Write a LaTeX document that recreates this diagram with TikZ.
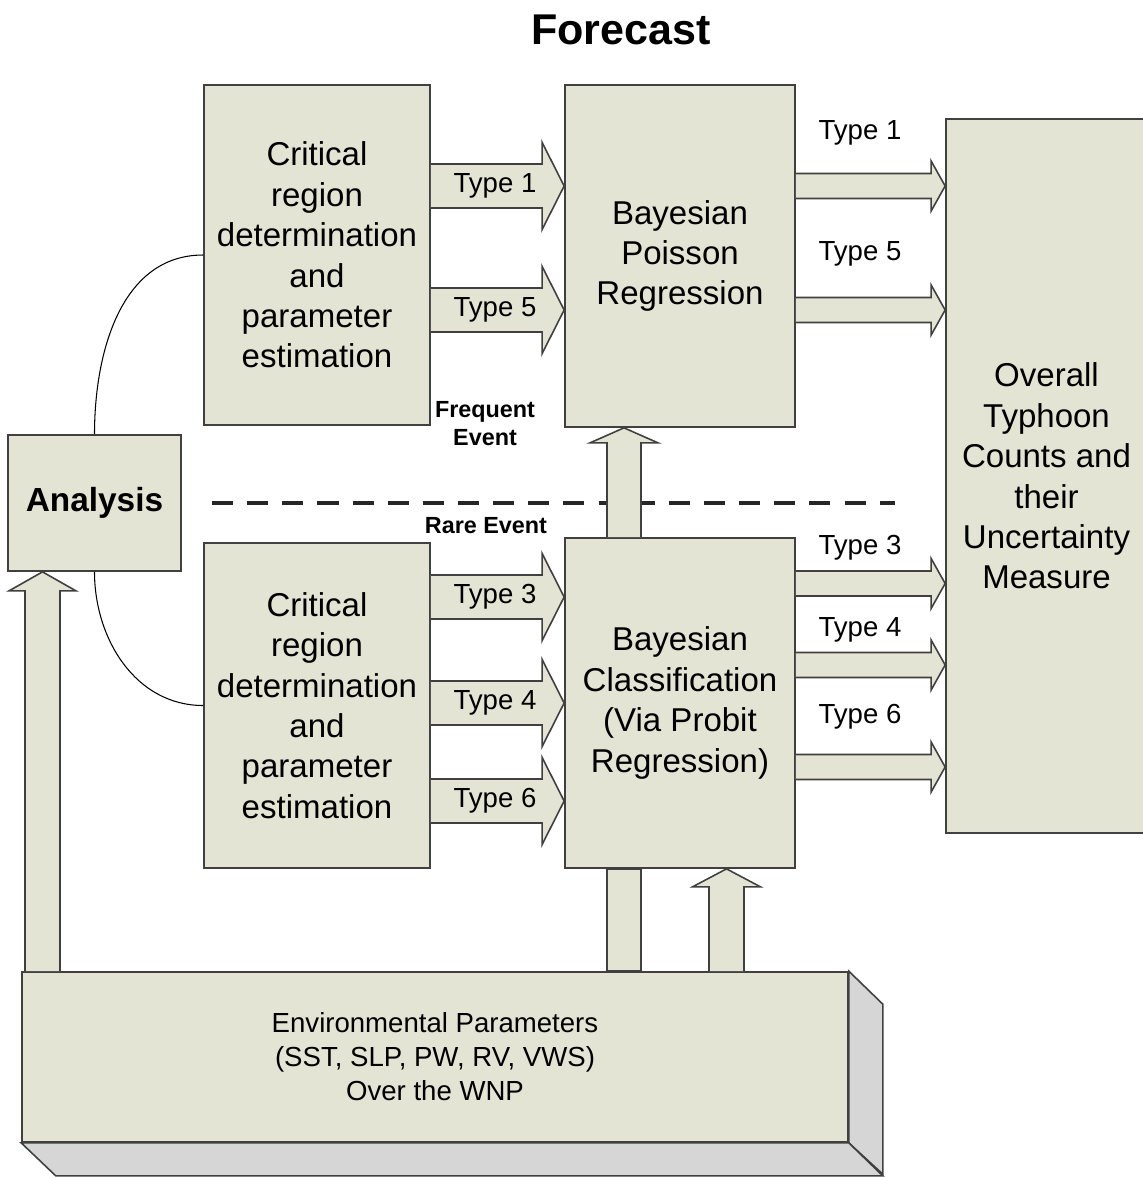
\documentclass[tikz,border=0pt]{standalone}
\usepackage{fontspec}
\setmainfont{Liberation Sans}
\usetikzlibrary{calc}
\definecolor{boxfill}{RGB}{228,228,212}
\definecolor{sidefill}{RGB}{214,214,214}
\newcommand{\boxtxt}  {\fontsize{18.8}{23}\selectfont}
\newcommand{\typetxt} {\fontsize{15.7}{19.3}\selectfont}
\newcommand{\evtxt}   {\fontsize{13.3}{16}\selectfont\bfseries}
% block arrows: #1 tail, #2 tip, #3 half shaft, #4 half head, #5 head length
\newcommand{\rblock}[5]{%
  \filldraw[blk] ($(#1)+(0,-#3)$) -- ($(#2)+(-#5,-#3)$) -- ($(#2)+(-#5,-#4)$)
    -- (#2) -- ($(#2)+(-#5,#4)$) -- ($(#2)+(-#5,#3)$) -- ($(#1)+(0,#3)$);}
\newcommand{\ublock}[5]{%
  \filldraw[blk] ($(#1)+(-#3,0)$) -- ($(#2)+(-#3,#5)$) -- ($(#2)+(-#4,#5)$)
    -- (#2) -- ($(#2)+(#4,#5)$) -- ($(#2)+(#3,#5)$) -- ($(#1)+(#3,0)$);}

\begin{document}
\begin{tikzpicture}[x=0.02cm,y=-0.02cm,
    box/.style={draw=black!75,fill=boxfill,line width=1pt,align=center,inner sep=0pt,font=\boxtxt},
    blk/.style={draw=black!75,fill=boxfill,line width=0.9pt,line join=miter},
    lbl/.style={font=\typetxt,inner sep=0pt}]
    \useasboundingbox (0,0) rectangle (1143,1177);

    \node (title) at (621,30) {\fontsize{24.5}{28}\selectfont\bfseries Forecast};

    % boxes
    \node[box,minimum width=4.52cm,minimum height=6.8cm] (crita) at (317,255)
      {Critical\\region\\determination\\and\\parameter\\estimation};
    \node[box,minimum width=4.52cm,minimum height=6.5cm] (critb) at (317,705.5)
      {Critical\\region\\determination\\and\\parameter\\estimation};
    \node[box,minimum width=4.6cm,minimum height=6.84cm] (poisson) at (680,256)
      {Bayesian\\Poisson\\Regression};
    \node[box,minimum width=4.6cm,minimum height=6.6cm] (classif) at (680,703)
      {Bayesian\\Classification\\(Via Probit\\Regression)};
    \node[box,minimum width=4.02cm,minimum height=14.28cm] (overall) at (1046.5,476)
      {Overall\\Typhoon\\Counts and\\their\\Uncertainty\\Measure};
    \node[box,minimum width=3.46cm,minimum height=2.72cm,font=\fontsize{19}{23}\selectfont\bfseries]
      (analysis) at (94.5,503) {Analysis};

    % environment block with its depth
    \node[box,minimum width=16.52cm,minimum height=3.4cm,font=\typetxt] (env) at (435,1057)
      {Environmental Parameters\\(SST, SLP, PW, RV, VWS)\\Over the WNP};
    \filldraw[blk,fill=sidefill] (env.north east) -- ++(34,33) -- ++(0,170) -- (env.south east) -- cycle;
    \filldraw[blk,fill=sidefill] (env.south west) -- (env.south east) -- ++(34,33) -- ++(-827,0) -- cycle;

    % links to the analysis box
    \draw[line width=0.6pt] (analysis.north) to[out=90,in=180] (crita.west);
    \draw[line width=0.6pt] (analysis.south) to[out=-90,in=180] (critb.west);

    % frequent / rare split
    \coordinate (splitl) at (212,503);
    \coordinate (splitr) at (895,503);
    \draw[line width=1.8pt,black!85,dash pattern=on 12pt off 8pt] (splitl) -- (splitr);
    \node[font=\evtxt,align=center,inner sep=0pt] (freq) at (485,424) {Frequent\\Event};
    \node[font=\evtxt,inner sep=0pt] (rare) at (486,526) {Rare Event};

    % types into the regressions
    \foreach \y/\t in {186/1,310/5} {
      \coordinate (la\t) at (crita.east |- 0,\y);
      \coordinate (lb\t) at (poisson.west |- 0,\y);
      \rblock{la\t}{lb\t}{22}{43.5}{22}
      \node[lbl] (lt\t) at (495,\y) {Type \t};
    }
    \foreach \y/\t in {597/3,703/4,801/6} {
      \coordinate (la\t) at (critb.east |- 0,\y);
      \coordinate (lb\t) at (classif.west |- 0,\y);
      \rblock{la\t}{lb\t}{22}{43.5}{22}
      \node[lbl] (lt\t) at (495,\y) {Type \t};
    }

    % types into the overall counts
    \foreach \y/\ly/\t in {186/133/1,310/254/5} {
      \coordinate (ra\t) at (poisson.east |- 0,\y);
      \coordinate (rb\t) at (overall.west |- 0,\y);
      \rblock{ra\t}{rb\t}{12.5}{25}{14}
      \node[lbl] (rt\t) at (860,\ly) {Type \t};
    }
    \foreach \y/\ly/\t in {583.5/548/3,665/630/4,767/717/6} {
      \coordinate (ra\t) at (classif.east |- 0,\y);
      \coordinate (rb\t) at (overall.west |- 0,\y);
      \rblock{ra\t}{rb\t}{12.5}{25}{14}
      \node[lbl] (rt\t) at (860,\ly) {Type \t};
    }

    % vertical arrows
    \coordinate (upa) at (classif.north -| 624,0);
    \coordinate (upb) at (poisson.south -| 624,0);
    \ublock{upa}{upb}{17}{34}{15}
    \filldraw[blk] (env.north -| 607,0) rectangle (classif.south -| 641,0);
    \coordinate (upc) at (env.north -| 726.5,0);
    \coordinate (upd) at (classif.south -| 726.5,0);
    \ublock{upc}{upd}{17.5}{34}{18}
    \coordinate (upe) at (env.north -| 42.5,0);
    \coordinate (upf) at (analysis.south -| 42.5,0);
    \ublock{upe}{upf}{17.5}{33.5}{19}
\end{tikzpicture}
\end{document}
